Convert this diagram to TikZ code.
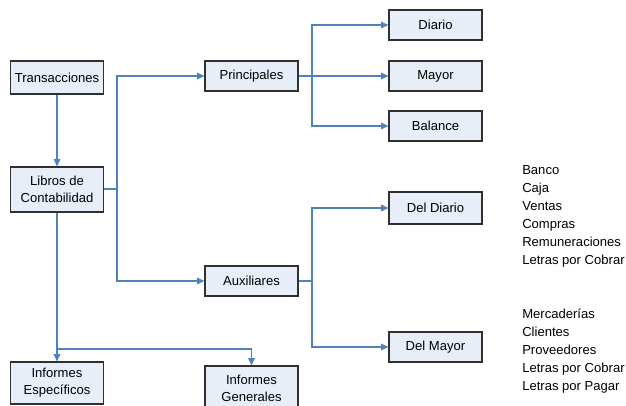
\documentclass[tikz,border=0pt]{standalone}
\usepackage{fontspec}
\setmainfont{Liberation Sans}
\usetikzlibrary{arrows.meta}
\definecolor{boxfill}{HTML}{E8EEF8}
\definecolor{boxline}{HTML}{303030}
\definecolor{linkblue}{HTML}{4F81BD}
\begin{document}
\begin{tikzpicture}[x=0.75pt,y=-0.75pt,
  box/.style={draw=boxline,line width=0.9pt,fill=boxfill,minimum width=69.75pt,
    inner sep=0pt,align=center,font=\fontsize{9.8}{12.6}\selectfont},
  link/.style={draw=linkblue,line width=0.8pt},
  arr/.style={link,-{Triangle[length=5.5pt,width=5pt]}},
  listtext/.style={anchor=north west,align=left,inner sep=0pt,
    font=\fontsize{9.8}{13.5}\selectfont}]
\useasboundingbox (0,0) rectangle (626,406);
% boxes
\node[box,minimum height=24.75pt] (tr) at (57,77.5) {Transacciones};
\node[box,minimum height=33.75pt] (lib) at (57,189.5) {Libros de\\Contabilidad};
\node[box,minimum height=22.5pt] (pri) at (251.5,76) {Principales};
\node[box,minimum height=22.5pt] (aux) at (251.5,281) {Auxiliares};
\node[box,minimum height=22.5pt] (dia) at (435.5,25) {Diario};
\node[box,minimum height=22.5pt] (may) at (435.5,76) {Mayor};
\node[box,minimum height=22.5pt] (bal) at (435.5,126) {Balance};
\node[box,minimum height=24pt] (ddi) at (435.5,208) {Del Diario};
\node[box,minimum height=22.5pt] (dma) at (435.5,347) {Del Mayor};
\node[box,minimum height=31.5pt] (ies) at (57,383) {Informes\\Específicos};
\node[box,minimum height=33pt] (ige) at (251.5,388) {Informes\\Generales};
% branch points
\coordinate (b1) at (117,189);
\coordinate (b2) at (312,76);
\coordinate (b3) at (312,281);
\coordinate (b4) at (57,349);
% connectors
\draw[arr] (tr) -- (lib);
\draw[link] (lib.east |- b1) -- (b1);
\draw[arr] (b1) |- (pri);
\draw[arr] (b1) |- (aux);
\draw[arr] (pri) -- (may);
\draw[arr] (b2) |- (dia);
\draw[arr] (b2) |- (bal);
\draw[link] (aux) -- (b3);
\draw[arr] (b3) |- (ddi);
\draw[arr] (b3) |- (dma);
\draw[arr] (lib) -- (ies);
\draw[arr] (b4) -| (ige);
% account lists
\node[listtext] (l1) at (522,165) {Banco\\Caja\\Ventas\\Compras\\Remuneraciones\\Letras por Cobrar};
\node[listtext] (l2) at (522,309) {Mercaderías\\Clientes\\Proveedores\\Letras por Cobrar\\Letras por Pagar};
\end{tikzpicture}
\end{document}
